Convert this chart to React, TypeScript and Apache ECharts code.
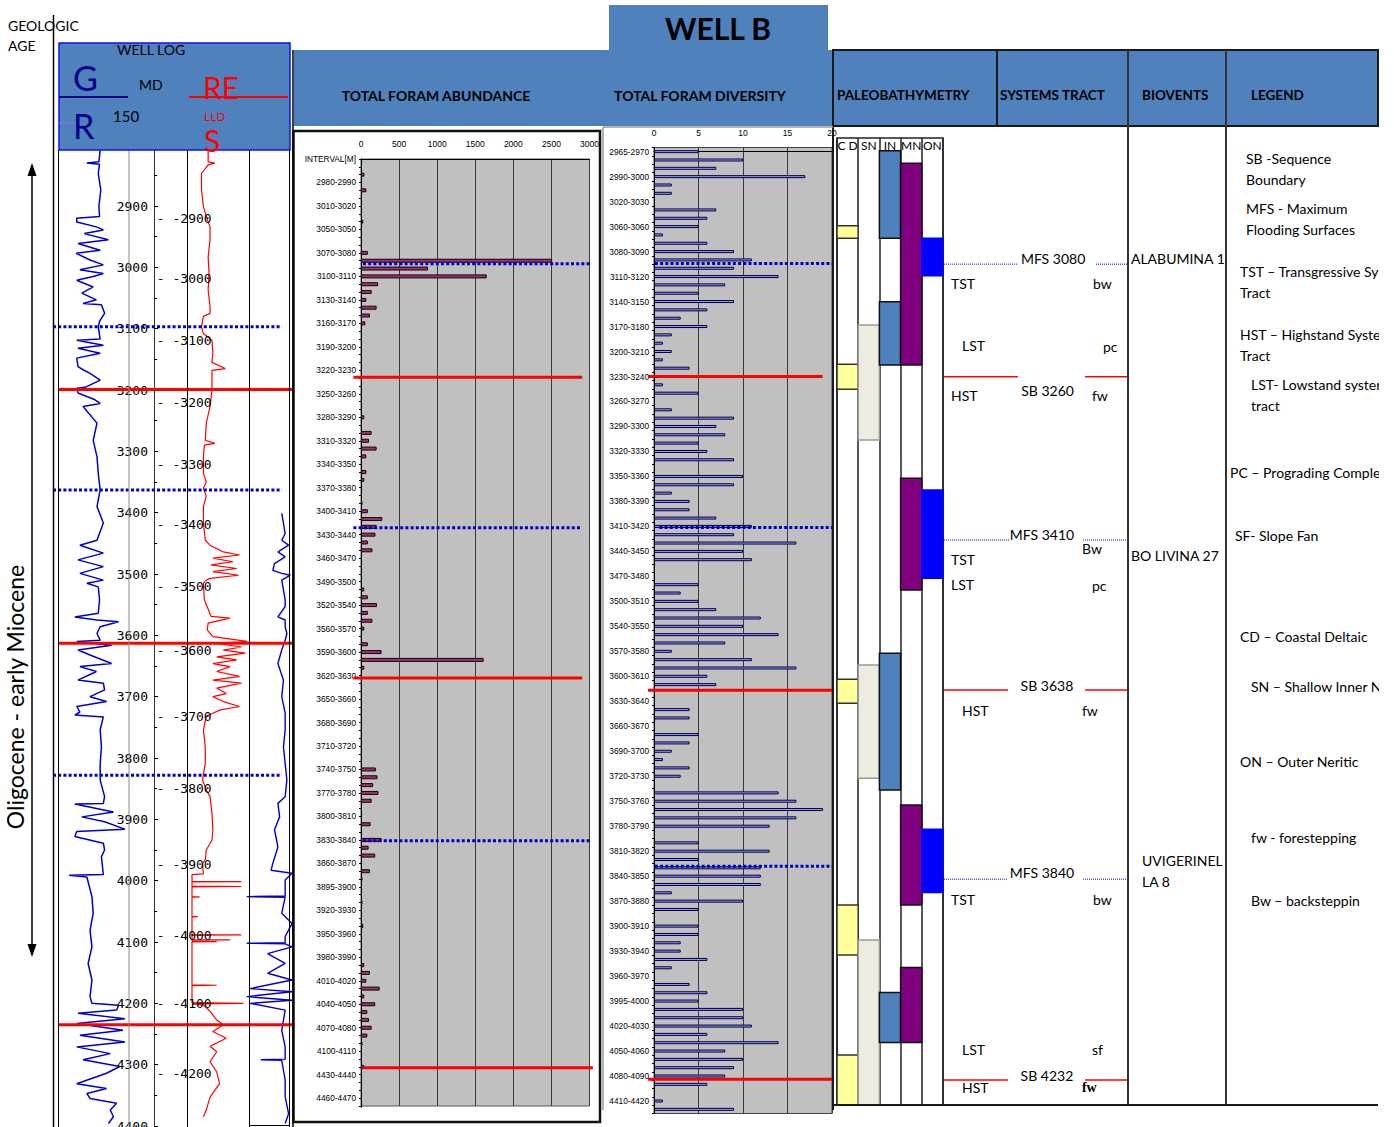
import React, { useEffect, useRef } from 'react';
import * as echarts from 'echarts';

const SANS = 'Lato, "Liberation Sans", Arial, sans-serif';
const NARROW = '"Liberation Sans Narrow", "Liberation Sans", Arial, sans-serif';
const MONO = '"DejaVu Sans Mono", "Liberation Mono", monospace';
const HEADER_BLUE = '#4F81BD';

// ---------------- WELL LOG (measured depth m, reading) ----------------
const grLog: [number, number][] = [
  [2809, 65], [2828, 63], [2830, 44], [2832, 64], [2847, 62], [2874, 66], [2900, 63], [2917, 64], [2920, 28], [2926, 28],
  [2934, 59], [2939, 70], [2945, 40], [2955, 78], [2961, 30], [2972, 65], [2977, 27], [2988, 49], [2996, 70], [3004, 33],
  [3010, 70], [3015, 54], [3021, 28], [3032, 54], [3042, 36], [3053, 59], [3059, 38], [3061, 67], [3075, 72], [3088, 64],
  [3097, 62], [3117, 65], [3119, 28], [3127, 70], [3132, 30], [3140, 65], [3148, 28], [3162, 30], [3167, 38], [3173, 49],
  [3184, 65], [3195, 43], [3197, 28], [3205, 30], [3215, 55], [3222, 65], [3227, 38], [3254, 60], [3282, 54], [3309, 60],
  [3336, 62], [3363, 65], [3390, 60], [3417, 70], [3445, 60], [3453, 33], [3466, 70], [3477, 30], [3488, 70], [3499, 33],
  [3510, 70], [3515, 44], [3521, 62], [3542, 64], [3564, 62], [3570, 25], [3575, 60], [3578, 94], [3586, 65], [3597, 60],
  [3608, 65], [3610, 28], [3616, 83], [3624, 30], [3632, 49], [3646, 83], [3651, 33], [3659, 59], [3673, 30], [3678, 70],
  [3689, 72], [3700, 49], [3708, 75], [3716, 28], [3725, 33], [3730, 25], [3733, 70], [3754, 65], [3782, 67], [3809, 65],
  [3836, 65], [3863, 72], [3874, 70], [3875, 25], [3879, 44], [3888, 86], [3896, 36], [3904, 72], [3916, 104], [3920, 28],
  [3928, 25], [3939, 70], [3950, 72], [3961, 67], [3990, 70], [3991, 16], [3994, 44], [4026, 52], [4053, 54], [4081, 49],
  [4108, 52], [4135, 46], [4162, 52], [4189, 49], [4200, 52], [4203, 94], [4211, 91], [4216, 30], [4225, 104], [4233, 28],
  [4244, 101], [4252, 33], [4263, 104], [4271, 28], [4282, 81], [4292, 38], [4303, 96], [4314, 75], [4331, 28], [4339, 75],
  [4347, 44], [4355, 49], [4363, 91], [4374, 81], [4385, 86], [4396, 78],
];

const resLog: [number, number][] = [
  [2809, 57], [2828, 57], [2830, 64], [2833, 57], [2847, 50], [2874, 50], [2901, 52], [2917, 55], [2934, 59], [2955, 59],
  [2983, 57], [3010, 58], [3037, 57], [3064, 59], [3075, 59], [3080, 52], [3097, 50], [3108, 52], [3119, 61], [3140, 62],
  [3155, 61], [3165, 75], [3168, 61], [3200, 61], [3227, 59], [3254, 55], [3282, 54], [3287, 64], [3290, 53], [3309, 52],
  [3336, 52], [3350, 55], [3360, 52], [3373, 55], [3390, 52], [3417, 52], [3445, 54], [3453, 59], [3464, 73], [3469, 90],
  [3474, 62], [3480, 83], [3485, 60], [3491, 87], [3496, 62], [3502, 89], [3507, 59], [3510, 55], [3515, 52], [3542, 53],
  [3569, 60], [3572, 80], [3580, 57], [3591, 56], [3602, 62], [3610, 98], [3613, 66], [3619, 92], [3624, 73], [3629, 96],
  [3635, 66], [3640, 87], [3646, 62], [3651, 80], [3659, 66], [3667, 90], [3673, 62], [3678, 92], [3686, 66], [3695, 76],
  [3700, 62], [3708, 73], [3716, 90], [3722, 69], [3727, 62], [3732, 55], [3754, 52], [3782, 54], [3809, 54], [3836, 51],
  [3852, 55], [3863, 59], [3890, 61], [3917, 62], [3934, 61], [3950, 55], [3966, 54], [3972, 51], [3989, 52], [3990, 40],
  [4001, 40], [4001.5, 92], [4002, 40], [4009, 40], [4009.5, 92], [4010, 40], [4026, 40], [4026.5, 48], [4027, 40], [4058, 40],
  [4058.5, 46], [4059, 40], [4088, 40], [4088.5, 92], [4089, 40], [4096, 40], [4096.5, 80], [4097, 40], [4099, 40], [4099.5, 66],
  [4100, 40], [4170, 40], [4170.5, 66], [4171, 40], [4199, 40], [4200, 94], [4201, 40], [4203, 52], [4213, 59], [4227, 66],
  [4235, 73], [4246, 62], [4257, 76], [4270, 59], [4279, 66], [4295, 59], [4312, 66], [4331, 69], [4353, 59], [4374, 55],
  [4385, 52],
];

const thirdLog: [number, number][] = [
  [3401, 76], [3417, 80], [3434, 84], [3445, 76], [3453, 92], [3464, 67], [3472, 84], [3483, 59], [3494, 55], [3499, 76],
  [3502, 96], [3510, 76], [3526, 80], [3542, 84], [3553, 84], [3570, 67], [3575, 84], [3586, 84], [3597, 88], [3608, 84],
  [3624, 76], [3646, 67], [3673, 80], [3700, 76], [3727, 84], [3754, 84], [3782, 80], [3809, 84], [3836, 88], [3863, 84],
  [3874, 67], [3896, 71], [3917, 59], [3945, 67], [3972, 55], [3983, 51], [3988, 100], [3999, 84], [4025, 84], [4026, -6],
  [4027, 84], [4053, 76], [4070, 100], [4091, 84], [4101, 84], [4102, -6], [4103, 84], [4108, 100], [4119, 43], [4135, 84],
  [4151, 43], [4162, 100], [4176, 2], [4181, 100], [4189, -6], [4195, 100], [4200, 2], [4211, 84], [4244, 76], [4271, 84],
  [4291, 84], [4292, 27], [4293, 76], [4325, 84], [4352, 84], [4380, 92], [4396, 84],
];

const tvdLabels = [2900, 3000, 3100, 3200, 3300, 3400, 3500, 3600, 3700, 3800, 3900, 4000, 4100, 4200];
const tvdAtMd = [2920, 3019, 3120, 3220, 3321, 3420, 3521, 3624, 3732, 3849, 3973, 4089, 4201, 4314];
const logMfsDepths = [3097, 3363, 3828];
const logSbDepths = [3199, 3613, 4235];

// ---------------- TOTAL FORAM ABUNDANCE ----------------
const abundanceIntervals = [
  'INTERVAL[M]', '2960-2970', '2970-2980', '2980-2990', '2990-3000', '3000-3010', '3010-3020', '3020-3030', '3030-3040', '3050-3050',
  '3050-3060', '3060-3070', '3070-3080', '3080-3090', '3090-3100', '3100-3110', '3110-3120', '3120-3130', '3130-3140', '3140-3150',
  '3150-3160', '3160-3170', '3170-3180', '3180-3190', '3190-3200', '3200-3210', '3210-3220', '3220-3230', '3230-3240', '3240-3250',
  '3250-3260', '3260-3270', '3270-3280', '3280-3290', '3290-3300', '3300-3310', '3310-3320', '3320-3330', '3330-3340', '3340-3350',
  '3350-3360', '3360-3370', '3370-3380', '3380-3390', '3390-3400', '3400-3410', '3410-3420', '3420-3430', '3430-3440', '3440-3450',
  '3450-3460', '3460-3470', '3470-3480', '3480-3490', '3490-3500', '3500-3510', '3510-3520', '3520-3540', '3540-3550', '3550-3560',
  '3560-3570', '3570-3580', '3580-3590', '3590-3600', '3600-3610', '3610-3620', '3620-3630', '3630-3640', '3640-3650', '3650-3660',
  '3660-3670', '3670-3680', '3680-3690', '3690-3700', '3700-3710', '3710-3720', '3720-3730', '3730-3740', '3740-3750', '3750-3760',
  '3760-3770', '3770-3780', '3780-3790', '3790-3800', '3800-3810', '3810-3820', '3820-3830', '3830-3840', '3840-3850', '3850-3860',
  '3860-3870', '3870-3880', '3880-3895', '3895-3900', '3900-3910', '3910-3920', '3920-3930', '3930-3940', '3940-3950', '3950-3960',
  '3960-3970', '3970-3980', '3980-3990', '3990-4000', '4000-4010', '4010-4020', '4020-4030', '4030-4040', '4040-4050', '4050-4060',
  '4060-4070', '4070-4080', '4080-4090', '4090-4100', '4100-4110', '4410-4420', '4420-4430', '4430-4440', '4440-4450', '4450-4460',
  '4460-4470', '4470-4480',
];
const abundanceCounts = [
  0, 0, 45, 15, 70, 0, 0, 0, 30, 0,
  0, 0, 90, 2510, 880, 1650, 225, 140, 70, 205,
  117, 57, 0, 0, 0, 0, 0, 0, 0, 0,
  0, 0, 0, 43, 0, 140, 105, 205, 70, 0,
  70, 43, 0, 0, 20, 90, 280, 205, 190, 90,
  150, 0, 0, 0, 0, 43, 90, 210, 90, 150,
  43, 0, 90, 270, 1610, 43, 0, 0, 0, 0,
  0, 0, 15, 0, 0, 0, 0, 0, 195, 217,
  160, 230, 140, 0, 0, 126, 0, 270, 100, 187,
  0, 117, 20, 0, 0, 20, 0, 0, 30, 0,
  0, 0, 0, 43, 117, 70, 245, 43, 187, 83,
  105, 140, 83, 20, 0, 0, 43, 15, 15, 0,
  0, 15,
];
// horizons on abundance panel: [row, from, to]
const abundanceMfs: [number, number, number][] = [[13.4, 26, 3030], [47.1, -100, 2900], [87.1, 26, 3030]];
const abundanceSb: [number, number, number][] = [[27.9, -100, 2905], [66.3, -100, 2905], [116.1, 26, 3045]];

// ---------------- TOTAL FORAM DIVERSITY ----------------
const diversityIntervals = [
  '2965-2970', '2970-2980', '2980-2990', '2990-3000', '3000-3010', '3010-3020', '3020-3030', '3030-3040', '3040-3050', '3060-3060',
  '3060-3070', '3070-3080', '3080-3090', '3090-3100', '3100-3110', '3110-3120', '3120-3130', '3130-3140', '3140-3150', '3150-3160',
  '3160-3170', '3170-3180', '3180-3190', '3190-3200', '3200-3210', '3210-3220', '3220-3230', '3230-3240', '3240-3250', '3250-3260',
  '3260-3270', '3270-3280', '3280-3290', '3290-3300', '3300-3310', '3310-3320', '3320-3330', '3330-3340', '3340-3350', '3350-3360',
  '3360-3370', '3370-3380', '3380-3390', '3390-3400', '3400-3410', '3410-3420', '3420-3430', '3430-3440', '3440-3450', '3450-3460',
  '3460-3470', '3470-3480', '3480-3490', '3490-3500', '3500-3510', '3510-3520', '3520-3540', '3540-3550', '3550-3560', '3560-3570',
  '3570-3580', '3580-3590', '3590-3600', '3600-3610', '3610-3620', '3620-3630', '3630-3640', '3640-3650', '3650-3660', '3660-3670',
  '3670-3680', '3680-3690', '3690-3700', '3700-3710', '3710-3720', '3720-3730', '3730-3740', '3740-3750', '3750-3760', '3760-3770',
  '3770-3780', '3780-3790', '3790-3800', '3800-3810', '3810-3820', '3820-3830', '3830-3840', '3840-3850', '3850-3860', '3860-3870',
  '3870-3880', '3880-3890', '3890-3900', '3900-3910', '3910-3920', '3920-3930', '3930-3940', '3940-3950', '3950-3960', '3960-3970',
  '3970-3980', '3980-3995', '3995-4000', '4000-4010', '4010-4020', '4020-4030', '4030-4040', '4040-4050', '4050-4060', '4060-4070',
  '4070-4080', '4080-4090', '4090-4100', '4100-4110', '4410-4420', '4420-4430',
];
const diversityCounts = [
  5, 10, 7, 17, 2, 2, 0, 7, 6, 5,
  1, 6, 9, 11, 9, 14, 8, 5, 9, 6,
  3, 6, 2, 1, 2, 1, 4, 3, 1, 5,
  0, 2, 9, 7, 8, 5, 6, 9, 0, 10,
  9, 2, 4, 4, 7, 11, 9, 16, 10, 11,
  0, 0, 5, 3, 5, 7, 12, 10, 14, 8,
  2, 11, 16, 6, 7, 0, 0, 4, 4, 0,
  5, 4, 2, 1, 4, 3, 0, 14, 16, 19,
  16, 13, 0, 5, 13, 5, 12, 12, 12, 2,
  10, 5, 0, 5, 5, 3, 3, 6, 2, 0,
  4, 6, 5, 10, 10, 11, 6, 14, 8, 10,
  9, 8, 6, 0, 1, 9,
];
const diversityMfs: [number, number, number][] = [[13.44, 0.1, 20], [45.12, 0.6, 20], [85.8, 0.1, 20]];
const diversitySb: [number, number, number][] = [[27, -0.67, 18.95], [64.68, -0.67, 20], [111.4, -0.67, 20]];

// ---------------- PALEOBATHYMETRY (rows on diversity scale) ----------------
const paleoZones = ['C D', 'SN', 'IN', 'MN', 'ON'];
const paleoCD: [number, number][] = [[8.9, 10.4], [25.5, 28.5], [63.3, 66.2], [90.4, 96.4], [108.4, 114.4]];
const paleoSN: [number, number][] = [[20.8, 34.6], [61.6, 75.2], [94.6, 114.4]];
const paleoIN: [number, number][] = [[-0.1, 10.4], [18, 25.6], [60.2, 76.6], [100.9, 106.9]];
const paleoMN: [number, number][] = [[1.4, 25.6], [39.2, 52.6], [78.4, 90.4], [97.9, 106.9]];
const paleoON: [number, number][] = [[10.4, 14.9], [40.6, 51.2], [81.3, 88.9]];
const paleoColors = ['#FFFF99', '#EEECE1', '#4F81BD', '#800080', '#0000FF'];
const paleoBorders = ['#333', '#999', '#111', '#111', '#0000FF'];

// ---------------- SYSTEMS TRACT ----------------
const stHorizonNames = ['MFS 3080', 'SB 3260', 'MFS 3410', 'SB 3638', 'MFS 3840', 'SB 4232'];
const stHorizonRows = [13.5, 27, 46.6, 64.6, 87.3, 111.4];
const stHorizonLabelRows = [12.76, 28.7, 45.9, 64, 86.5, 110.8];
const stHorizonLabelX = [59.5, 56.5, 53.5, 56.2, 53.5, 56.2];
const stHorizonLeftEnd = [40.5, 40.5, 36.2, 35.1, 35.1, 35.1];
const stHorizonRightStart = [82.7, 76.8, 75.7, 76.8, 75.7, 76.8];
const tractLabels = ['TST', 'LST', 'HST', 'TST', 'LST', 'HST', 'TST', 'LST', 'HST'];
const tractRows = [15.76, 23.3, 29.3, 48.9, 51.9, 67, 89.7, 107.7, 112.3];
const tractX = [4.3, 10.3, 4.3, 4.3, 4.3, 10.3, 4.3, 10.3, 10.3];
const stackLabels = ['bw', 'pc', 'fw', 'Bw', 'pc', 'fw', 'bw', 'sf', 'fw'];
const stackRows = [15.76, 23.4, 29.3, 47.6, 52, 67, 89.7, 107.7, 112.3];
const stackX = [81.1, 86.5, 80.5, 75.1, 80.5, 75.1, 81.1, 80.5, 75.1];

// ---------------- BIOVENTS ----------------
const bioventNames = ['ALABUMINA 1', 'BO LIVINA 27', 'UVIGERINEL', 'LA 8'];
const bioventRows = [12.76, 48.4, 85.1, 87.6];
const bioventX = [3, 3, 14.3, 14.3];

// ---------------- LEGEND ----------------
const legendLines: [string, number, number][] = [
  ['SB -Sequence', 1246, 158], ['Boundary', 1246, 179],
  ['MFS - Maximum', 1246, 208], ['Flooding Surfaces', 1246, 229],
  ['TST \u2013 Transgressive Sy', 1240, 271], ['Tract', 1240, 292],
  ['HST \u2013 Highstand Syste', 1240, 334], ['Tract', 1240, 355],
  ['LST- Lowstand syster', 1251, 384], ['tract', 1251, 405],
  ['PC \u2013 Prograding Comple', 1230, 472],
  ['SF- Slope Fan', 1235, 535],
  ['CD \u2013 Coastal Deltaic', 1240, 636],
  ['SN \u2013 Shallow Inner N', 1251, 686],
  ['ON \u2013 Outer Neritic', 1240, 761],
  ['fw - forestepping', 1251, 837],
  ['Bw \u2013 backsteppin', 1251, 900],
];

// ---------------- helpers ----------------
function txt(text: string, x: number, y: number, o: any = {}) {
  const align = o.align || 'left';
  return {
    type: 'text', x, y, rotation: o.rotation || 0, silent: true, z: o.z ?? 100,
    style: {
      text, fill: o.color || '#000', fontSize: o.size || 14, fontFamily: o.family || SANS,
      fontWeight: o.bold ? 'bold' : 'normal', align, verticalAlign: 'middle',
      textAlign: align, textVerticalAlign: 'middle',
    },
  };
}
function ln(x1: number, y1: number, x2: number, y2: number, color: string, w: number, z = 40, dash?: number[]) {
  return { type: 'line', silent: true, z, shape: { x1, y1, x2, y2 }, style: { stroke: color, lineWidth: w, lineDash: dash } };
}
function rc(x: number, y: number, w: number, h: number, fill: string, stroke: string | null, lw: number, z = 30) {
  return { type: 'rect', silent: true, z, shape: { x, y, width: w, height: h }, style: { fill, stroke: stroke || undefined, lineWidth: lw } };
}

function hLineSeries(xi: number, yi: number, segs: [number, number, number][], style: any) {
  return {
    type: 'custom', xAxisIndex: xi, yAxisIndex: yi, silent: true, z: 8,
    data: segs.map(s => [s[1], s[0], s[2]]),
    renderItem: (params: any, api: any) => {
      const p0 = api.coord([api.value(0), api.value(1)]);
      const p1 = api.coord([api.value(2), api.value(1)]);
      return { type: 'line', shape: { x1: p0[0], y1: p0[1], x2: p1[0], y2: p1[1] }, style: { ...style, fill: null } };
    },
  };
}

type TextItem = { x: number; row: number; text: string; align?: string; bold?: boolean; size?: number; family?: string; color?: string };
function textSeries(xi: number, yi: number, items: TextItem[]) {
  return {
    type: 'custom', xAxisIndex: xi, yAxisIndex: yi, silent: true, z: 9,
    data: items.map(it => [it.x, it.row]),
    renderItem: (params: any, api: any) => {
      const it = items[params.dataIndex];
      const p = api.coord([api.value(0), api.value(1)]);
      return {
        type: 'text', x: p[0], y: p[1],
        style: {
          text: it.text, fill: it.color || '#000', fontSize: it.size || 14, fontFamily: it.family || SANS,
          fontWeight: it.bold ? 'bold' : 'normal', align: it.align || 'left', verticalAlign: 'middle',
        },
      };
    },
  };
}

const plain = (v: number) => String(v);

function buildOption() {
  const LOG_TOP = 144.67;
  const LOG_H = 981.33;
  const depthAxisHidden = (gi: number) => ({ gridIndex: gi, type: 'value', min: 2800, max: 4400, inverse: true, show: false });
  const tableRowAxis = (gi: number) => ({ gridIndex: gi, type: 'value', min: -1.64, max: 114.4, inverse: true, show: false });

  const paleoData: number[][] = [];
  [paleoCD, paleoSN, paleoIN, paleoMN, paleoON].forEach((list, col) => list.forEach(([a, b]) => paleoData.push([col, a, b])));

  const stSegs: [number, number, number][] = [];
  const stSbSegs: [number, number, number][] = [];
  stHorizonNames.forEach((n, i) => {
    const target = n.startsWith('SB') ? stSbSegs : stSegs;
    target.push([stHorizonRows[i], 0.5, stHorizonLeftEnd[i]]);
    target.push([stHorizonRows[i], stHorizonRightStart[i], 100]);
  });

  const stTexts: TextItem[] = [
    ...stHorizonNames.map((t, i) => ({ x: stHorizonLabelX[i], row: stHorizonLabelRows[i], text: t, align: 'center' })),
    ...tractLabels.map((t, i) => ({ x: tractX[i], row: tractRows[i], text: t })),
    ...stackLabels.map((t, i) => (i === stackLabels.length - 1
      ? { x: stackX[i], row: stackRows[i], text: t, bold: true, family: '"Liberation Serif", serif' }
      : { x: stackX[i], row: stackRows[i], text: t })),
  ];
  const bioTexts: TextItem[] = bioventNames.map((t, i) => ({ x: bioventX[i], row: bioventRows[i], text: t }));

  const blueDot = { stroke: '#0000CC', lineWidth: 3, lineDash: [3, 2.2] };
  const redSolid = { stroke: '#FF0000', lineWidth: 3 };

  const graphics: any[] = [
    // geologic age column
    txt('GEOLOGIC', 8, 25), txt('AGE', 8, 45),
    ln(53.5, 15, 53.5, 1127, '#000', 1.5),
    ln(32, 172, 32, 948, '#000', 1.5),
    { type: 'polygon', silent: true, z: 40, shape: { points: [[32, 163], [27.5, 176], [36.5, 176]] }, style: { fill: '#000' } },
    { type: 'polygon', silent: true, z: 40, shape: { points: [[32, 957], [27.5, 944], [36.5, 944]] }, style: { fill: '#000' } },
    txt('Oligocene - early Miocene', 15, 697, { size: 23, align: 'center', rotation: Math.PI / 2 }),
    // log track lines
    ln(58.5, 150, 58.5, 1127, '#000', 1),
    ln(129, 150, 129, 1127, '#8a8a8a', 1),
    ln(187.5, 150, 187.5, 1127, '#000', 1),
    ln(249.5, 150, 249.5, 1127, '#000', 1),
    ln(289.5, 150, 289.5, 1127, '#000', 1),
    ln(249.5, 1125.5, 289.5, 1125.5, '#000', 1),
    ln(293, 50, 293, 1127, '#000', 1.5),
    // well log header
    rc(59, 43, 231, 107, HEADER_BLUE, '#1010F0', 1.5, 50),
    txt('WELL LOG', 117, 49, { size: 14 }),
    txt('G', 73, 77, { size: 34, color: '#00008B' }),
    txt('R', 73, 125, { size: 34, color: '#00008B' }),
    txt('MD', 139, 84, { size: 14 }),
    txt('150', 113, 116, { size: 15 }),
    txt('RE', 203, 87, { size: 30, color: '#FF0000' }),
    txt('LLD', 204, 116, { size: 12, color: '#FF0000' }),
    txt('S', 204, 140, { size: 30, color: '#FF0000' }),
    ln(59, 97, 128, 97, '#00008B', 2, 60),
    ln(189, 97, 288, 97, '#FF0000', 2, 60),
    ln(59, 123, 78, 123, '#9370DB', 1, 60),
    // top headers
    rc(609, 5, 219, 45, HEADER_BLUE, null, 0, 30),
    txt('WELL B', 718, 28, { size: 30, bold: true, align: 'center' }),
    rc(294, 50, 539, 76, HEADER_BLUE, null, 0, 30),
    txt('TOTAL FORAM ABUNDANCE', 436, 95, { size: 14, bold: true, align: 'center' }),
    txt('TOTAL FORAM DIVERSITY', 700, 95, { size: 14, bold: true, align: 'center' }),
    rc(833, 50, 545, 76, HEADER_BLUE, '#1a1a1a', 2, 30),
    ln(997, 50, 997, 126, '#1a1a1a', 2),
    ln(1128, 50, 1128, 1105, '#333', 2),
    ln(1226, 50, 1226, 1105, '#333', 2),
    ln(833, 50, 833, 1110, '#1a1a1a', 2),
    ln(833, 1105, 1378, 1105, '#1a1a1a', 2),
    txt('PALEOBATHYMETRY', 837, 95, { size: 13.5, bold: true }),
    txt('SYSTEMS TRACT', 1000, 95, { size: 13.5, bold: true }),
    txt('BIOVENTS', 1142, 95, { size: 13.5, bold: true }),
    txt('LEGEND', 1251, 95, { size: 13.5, bold: true }),
    // abundance panel frame
    rc(293.5, 131, 306.5, 991, 'none', '#111', 2.5, 20),
    // diversity panel frame
    ln(603, 127, 603, 1110, '#999', 1.5),
    ln(603, 127, 833, 127, '#999', 1.5),
    // legend
    ...legendLines.map(([t, x, y]) => txt(t, x, y, { size: 14 })),
    // mask beyond right edge
    rc(1379, 0, 15, 1127, '#fff', null, 0, 200),
  ];

  return {
    animation: false,
    backgroundColor: '#fff',
    textStyle: { fontFamily: SANS },
    grid: [
      { left: 59, top: LOG_TOP, width: 95, height: LOG_H, outerBoundsMode: 'none', containLabel: false },
      { left: 154, top: LOG_TOP, width: 95, height: LOG_H, outerBoundsMode: 'none', containLabel: false },
      { left: 245, top: LOG_TOP, width: 47, height: LOG_H, outerBoundsMode: 'none', containLabel: false },
      { left: 53, top: LOG_TOP, width: 239, height: LOG_H, outerBoundsMode: 'none', containLabel: false },
      { left: 361, top: 159, width: 228.5, height: 947, show: true, backgroundColor: '#C0C0C0', borderColor: '#555', borderWidth: 1, outerBoundsMode: 'none', containLabel: false },
      { left: 654, top: 147.5, width: 178, height: 966, show: true, backgroundColor: '#C0C0C0', borderColor: '#444', borderWidth: 1, outerBoundsMode: 'none', containLabel: false },
      { left: 837, top: 138, width: 106, height: 967, show: true, backgroundColor: 'transparent', borderColor: '#222', borderWidth: 1.5, outerBoundsMode: 'none', containLabel: false },
      { left: 943, top: 138, width: 185, height: 967, outerBoundsMode: 'none', containLabel: false },
      { left: 1128, top: 138, width: 98, height: 967, outerBoundsMode: 'none', containLabel: false },
    ],
    xAxis: [
      { gridIndex: 0, type: 'value', min: 0, max: 150, show: false },
      { gridIndex: 1, type: 'value', min: 0, max: 100, show: false },
      { gridIndex: 2, type: 'value', min: -10, max: 100, show: false },
      { gridIndex: 3, type: 'value', min: 0, max: 1, show: false },
      {
        gridIndex: 4, type: 'value', position: 'top', min: 0, max: 3000, interval: 500,
        axisLine: { show: true, lineStyle: { color: '#000', width: 1 } }, axisTick: { show: false },
        axisLabel: { fontSize: 8.5, fontFamily: NARROW, color: '#000', margin: 11, formatter: plain },
        splitLine: { show: true, lineStyle: { color: '#3a3a3a', width: 1 } },
      },
      {
        gridIndex: 5, type: 'value', position: 'top', min: 0, max: 20, interval: 5,
        axisLine: { show: true, lineStyle: { color: '#000', width: 1 } }, axisTick: { show: false },
        axisLabel: { fontSize: 8.5, fontFamily: NARROW, color: '#000', margin: 10, formatter: plain },
        splitLine: { show: true, lineStyle: { color: '#3a3a3a', width: 1 } },
      },
      {
        gridIndex: 6, type: 'category', position: 'top', data: paleoZones,
        axisLine: { show: false }, axisTick: { show: false },
        axisLabel: { inside: true, interval: 0, margin: 1, fontSize: 12, fontFamily: SANS, color: '#000' },
        splitLine: { show: true, interval: 0, lineStyle: { color: '#222', width: 1.5 } },
      },
      { gridIndex: 7, type: 'value', min: 0, max: 100, show: false },
      { gridIndex: 8, type: 'value', min: 0, max: 100, show: false },
    ],
    yAxis: [
      {
        gridIndex: 0, type: 'value', min: 2800, max: 4400, interval: 100, inverse: true, position: 'left', offset: -95,
        axisLine: { show: true, lineStyle: { color: '#333', width: 1 } },
        axisTick: { show: true, inside: true, length: 4, lineStyle: { color: '#000' } },
        minorTick: { show: true, splitNumber: 2, length: 3, lineStyle: { color: '#000' } },
        axisLabel: { showMinLabel: false, fontFamily: MONO, fontSize: 13, color: '#000', margin: 6, formatter: plain },
        splitLine: { show: false },
      },
      depthAxisHidden(1),
      depthAxisHidden(2),
      depthAxisHidden(3),
      {
        gridIndex: 4, type: 'category', data: abundanceIntervals, inverse: true, boundaryGap: false,
        axisLine: { show: true, lineStyle: { color: '#000', width: 1 } },
        axisTick: { show: true, interval: 0, length: 2, lineStyle: { color: '#000' } },
        axisLabel: { interval: 2, fontFamily: NARROW, fontSize: 8.3, color: '#000', margin: 5 },
        splitLine: { show: false },
      },
      { gridIndex: 4, type: 'value', min: 0, max: 121, inverse: true, show: false },
      {
        gridIndex: 5, type: 'category', data: diversityIntervals, inverse: true, boundaryGap: true,
        axisLine: { show: true, lineStyle: { color: '#000', width: 1 } },
        axisTick: { show: true, interval: 0, length: 2, lineStyle: { color: '#000' } },
        axisLabel: { interval: 2, fontFamily: NARROW, fontSize: 8.3, color: '#000', margin: 5 },
        splitLine: { show: false },
      },
      { gridIndex: 5, type: 'value', min: -0.5, max: 115.5, inverse: true, show: false },
      tableRowAxis(6),
      tableRowAxis(7),
      tableRowAxis(8),
    ],
    series: [
      {
        type: 'line', xAxisIndex: 0, yAxisIndex: 0, data: grLog.map(([d, v]) => [v, d]), symbol: 'none',
        lineStyle: { color: '#0000CC', width: 1.5 }, silent: true, z: 3,
      },
      {
        type: 'line', xAxisIndex: 1, yAxisIndex: 1, data: resLog.map(([d, v]) => [v, d]), symbol: 'none',
        lineStyle: { color: '#FF0000', width: 1.2 }, silent: true, z: 3,
      },
      {
        type: 'line', xAxisIndex: 2, yAxisIndex: 2, data: thirdLog.map(([d, v]) => [v, d]), symbol: 'none',
        lineStyle: { color: '#0000CC', width: 1.4 }, silent: true, z: 3, clip: false,
      },
      textSeries(1, 1, tvdLabels.map((t, i) => ({ x: 3, row: tvdAtMd[i], text: '- -' + t, family: MONO, size: 13 }))),
      hLineSeries(3, 3, logMfsDepths.map(d => [d, 0, 0.958] as [number, number, number]), blueDot),
      hLineSeries(3, 3, logSbDepths.map(d => [d, 0.025, 1] as [number, number, number]), redSolid),
      {
        type: 'bar', xAxisIndex: 4, yAxisIndex: 4, barWidth: 4, silent: true,
        data: abundanceCounts.map(v => (v > 0 ? v : '-')),
        itemStyle: { color: '#993366', borderColor: '#1a0010', borderWidth: 1 },
      },
      hLineSeries(4, 5, abundanceMfs, blueDot),
      hLineSeries(4, 5, abundanceSb, redSolid),
      {
        type: 'bar', xAxisIndex: 5, yAxisIndex: 6, barWidth: 3, silent: true,
        data: diversityCounts.map(v => (v > 0 ? v : '-')),
        itemStyle: { color: '#9999FF', borderColor: '#000040', borderWidth: 1 },
      },
      hLineSeries(5, 7, diversityMfs, blueDot),
      hLineSeries(5, 7, diversitySb, redSolid),
      {
        type: 'custom', xAxisIndex: 6, yAxisIndex: 8, silent: true, z: 4,
        data: paleoData,
        renderItem: (params: any, api: any) => {
          const col = api.value(0);
          const p0 = api.coord([col, api.value(1)]);
          const p1 = api.coord([col, api.value(2)]);
          const w = api.size([1, 0])[0];
          return {
            type: 'rect',
            shape: { x: p0[0] - w / 2, y: p0[1], width: w, height: p1[1] - p0[1] },
            style: { fill: paleoColors[col], stroke: paleoBorders[col], lineWidth: 1.5 },
          };
        },
      },
      hLineSeries(7, 9, stSegs, { stroke: '#0000CC', lineWidth: 1, lineDash: [1, 1] }),
      hLineSeries(7, 9, stSbSegs, { stroke: '#FF0000', lineWidth: 1.5 }),
      textSeries(7, 9, stTexts),
      textSeries(8, 10, bioTexts),
    ],
    graphic: { elements: graphics },
  };
}

export default function App() {
  const ref = useRef<HTMLDivElement>(null);
  useEffect(() => {
    if (!ref.current) return;
    const chart = echarts.init(ref.current, undefined, { renderer: 'svg' });
    chart.setOption(buildOption() as any);
    return () => chart.dispose();
  }, []);
  return (
    <div
      ref={ref}
      style={{ position: 'absolute', left: 0, top: 0, width: 1394, height: 1127, background: '#fff' }}
    />
  );
}
